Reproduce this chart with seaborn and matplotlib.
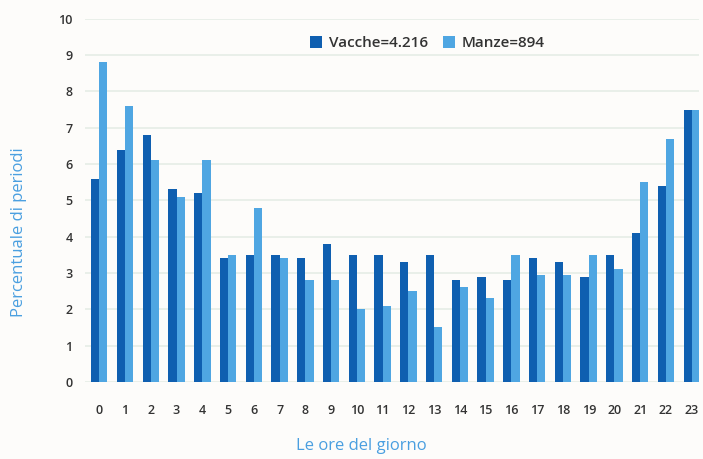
import pandas as pd
import matplotlib
matplotlib.use("Agg")
import matplotlib.pyplot as plt
import seaborn as sns

hours = [str(h) for h in range(24)]
vacche = [5.6, 6.4, 6.8, 5.3, 5.2, 3.4, 3.5, 3.5, 3.4, 3.8, 3.5, 3.5,
          3.3, 3.5, 2.8, 2.9, 2.8, 3.4, 3.3, 2.9, 3.5, 4.1, 5.4, 7.5]
manze = [8.8, 7.6, 6.1, 5.1, 6.1, 3.5, 4.8, 3.4, 2.8, 2.8, 2.0, 2.1,
         2.5, 1.5, 2.6, 2.3, 3.5, 2.95, 2.95, 3.5, 3.1, 5.5, 6.7, 7.5]
series_names = ["Vacche=4.216", "Manze=894"]

df = pd.DataFrame({
    "ora": hours * 2,
    "valore": vacche + manze,
    "gruppo": [series_names[0]] * 24 + [series_names[1]] * 24,
})

sns.set_theme(style="white")
plt.rcParams["font.family"] = ["Open Sans", "DejaVu Sans"]

fig = plt.figure(figsize=(7.03, 4.59), dpi=100)
fig.patch.set_facecolor("#fdfcfa")
ax = fig.add_axes([0.121, 0.168, 0.874, 0.791])
ax.set_facecolor("#fdfcfa")

sns.barplot(data=df, x="ora", y="valore", hue="gruppo", order=hours,
            palette=["#0f5fb0", "#4fa6e2"], width=0.64, saturation=1,
            linewidth=0, ax=ax, zorder=3)

ax.set_ylim(0, 10)
ax.set_xlim(-0.55, 23.3)
ax.set_yticks(range(11))
ax.yaxis.grid(True, color="#e6ede6", linewidth=1.2, zorder=0)
for s in ax.spines.values():
    s.set_visible(False)
ax.tick_params(axis="x", length=0, pad=16, labelsize=9, colors="#333333")
ax.tick_params(axis="y", length=0, pad=9, labelsize=9, colors="#333333")
for lab in ax.get_xticklabels() + ax.get_yticklabels():
    lab.set_fontweight("semibold")

ax.set_xlabel("Le ore del giorno", color="#4a9fe0", fontsize=12)
ax.set_ylabel("Percentuale di periodi", color="#4a9fe0", fontsize=12)
ax.xaxis.set_label_coords(0.45, -0.155)
ax.yaxis.set_label_coords(-0.094, 0.413)

leg = ax.legend(loc="upper center", bbox_to_anchor=(0.557, 0.99), ncol=2,
                frameon=False, fontsize=11, handlelength=0.8, handleheight=0.8,
                columnspacing=1.0, handletextpad=0.4)
for t in leg.get_texts():
    t.set_color("#333333")
    t.set_fontweight("semibold")

fig.savefig("out.png", dpi=100, facecolor=fig.get_facecolor())
